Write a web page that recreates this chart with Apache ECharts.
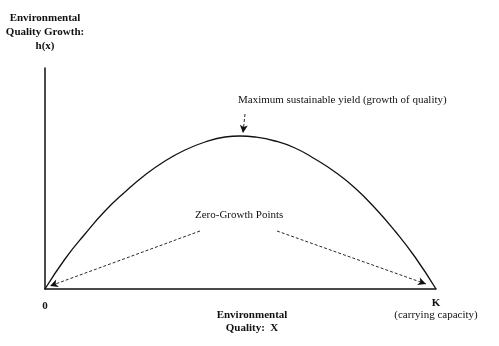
<!DOCTYPE html>
<html>
<head>
<meta charset="utf-8">
<script src="https://cdn.jsdelivr.net/npm/echarts@6/dist/echarts.min.js"></script>
<style>html,body{margin:0;padding:0;background:#fff;}#c{width:499px;height:346px;}</style>
</head>
<body>
<div id="c"></div>
<script>
// Environmental quality (x, 0..K) and growth h(x)
var qualityX = [0, 20, 40, 60, 80, 100, 120, 140, 160, 180, 195, 210, 230, 250, 270, 290, 310, 330, 350, 370, 391];
var growthH  = [0, 30, 55, 78, 97, 114, 128, 139, 147, 152, 153, 152, 148, 141, 130, 117, 101, 81, 58, 32, 0];
var capacityK = 391;
var xTickLabels = ['0', 'K', '(carrying capacity)'];
var yAxisTitle = 'Environmental\nQuality Growth:\nh(x)';
var xAxisTitle = 'Environmental\nQuality:  X';
var msyLabel = 'Maximum sustainable yield (growth of quality)';
var zeroLabel = 'Zero-Growth Points';
// arrows: [fromX, fromY, toX, toY] in data units
var msyArrow = [200, 175, 198, 156];
var zeroArrowLeft = [155, 58, 5, 3];
var zeroArrowRight = [232, 58, 381, 5];

var font = 'Liberation Serif';
var ink = '#111';
var curve = qualityX.map(function (x, i) { return [x, growthH[i]]; });

function arrow(a) {
  return [{ coord: [a[0], a[1]] }, { coord: [a[2], a[3]] }];
}

var chart = echarts.init(document.getElementById('c'), null, { renderer: 'canvas' });
chart.setOption({
  animation: false,
  backgroundColor: '#fff',
  grid: { left: 45, right: 63, top: 68, bottom: 57, containLabel: false, outerBoundsMode: 'none' },
  xAxis: {
    type: 'value', min: 0, max: capacityK, interval: capacityK,
    splitLine: { show: false },
    axisTick: { show: false },
    axisLine: { lineStyle: { color: ink, width: 1.5 } },
    axisLabel: {
      margin: 8,
      fontFamily: font,
      color: ink,
      formatter: function (v) {
        return v === 0 ? '{z|' + xTickLabels[0] + '}' : '{k|' + xTickLabels[1] + '}\n{c|' + xTickLabels[2] + '}';
      },
      rich: {
        z: { fontFamily: font, fontSize: 11, fontWeight: 'bold', color: ink, padding: [4, 0, 0, 0] },
        k: { fontFamily: font, fontSize: 11, fontWeight: 'bold', color: ink, lineHeight: 12 },
        c: { fontFamily: font, fontSize: 11, color: ink, lineHeight: 13 }
      }
    },
    name: xAxisTitle,
    nameLocation: 'middle',
    nameGap: 20,
    nameMoveOverlap: false,
    nameTextStyle: { fontFamily: font, fontSize: 11, fontWeight: 'bold', color: ink, lineHeight: 13, align: 'center', padding: [0, 0, 0, 23] }
  },
  yAxis: {
    type: 'value', min: 0, max: 221,
    splitLine: { show: false },
    axisTick: { show: false },
    axisLabel: { show: false },
    axisLine: { lineStyle: { color: ink, width: 1.5 } },
    name: yAxisTitle,
    nameLocation: 'end',
    nameGap: 15,
    nameTextStyle: { fontFamily: font, fontSize: 11, fontWeight: 'bold', color: ink, lineHeight: 14, align: 'center' }
  },
  series: [{
    type: 'line',
    data: curve,
    smooth: true,
    showSymbol: false,
    lineStyle: { color: ink, width: 1.3 },
    markLine: {
      silent: true,
      symbol: ['none', 'arrow'],
      symbolSize: [6, 8],
      label: { show: false },
      lineStyle: { color: ink, type: [3, 2], width: 0.9 },
      data: [arrow(msyArrow), arrow(zeroArrowLeft), arrow(zeroArrowRight)]
    }
  }],
  graphic: [
    { type: 'text', left: 238, top: 95, style: { text: msyLabel, fontFamily: font, fontSize: 11, fill: ink } },
    { type: 'text', left: 195, top: 210, style: { text: zeroLabel, fontFamily: font, fontSize: 11, fill: ink } }
  ]
});
</script>
</body>
</html>
